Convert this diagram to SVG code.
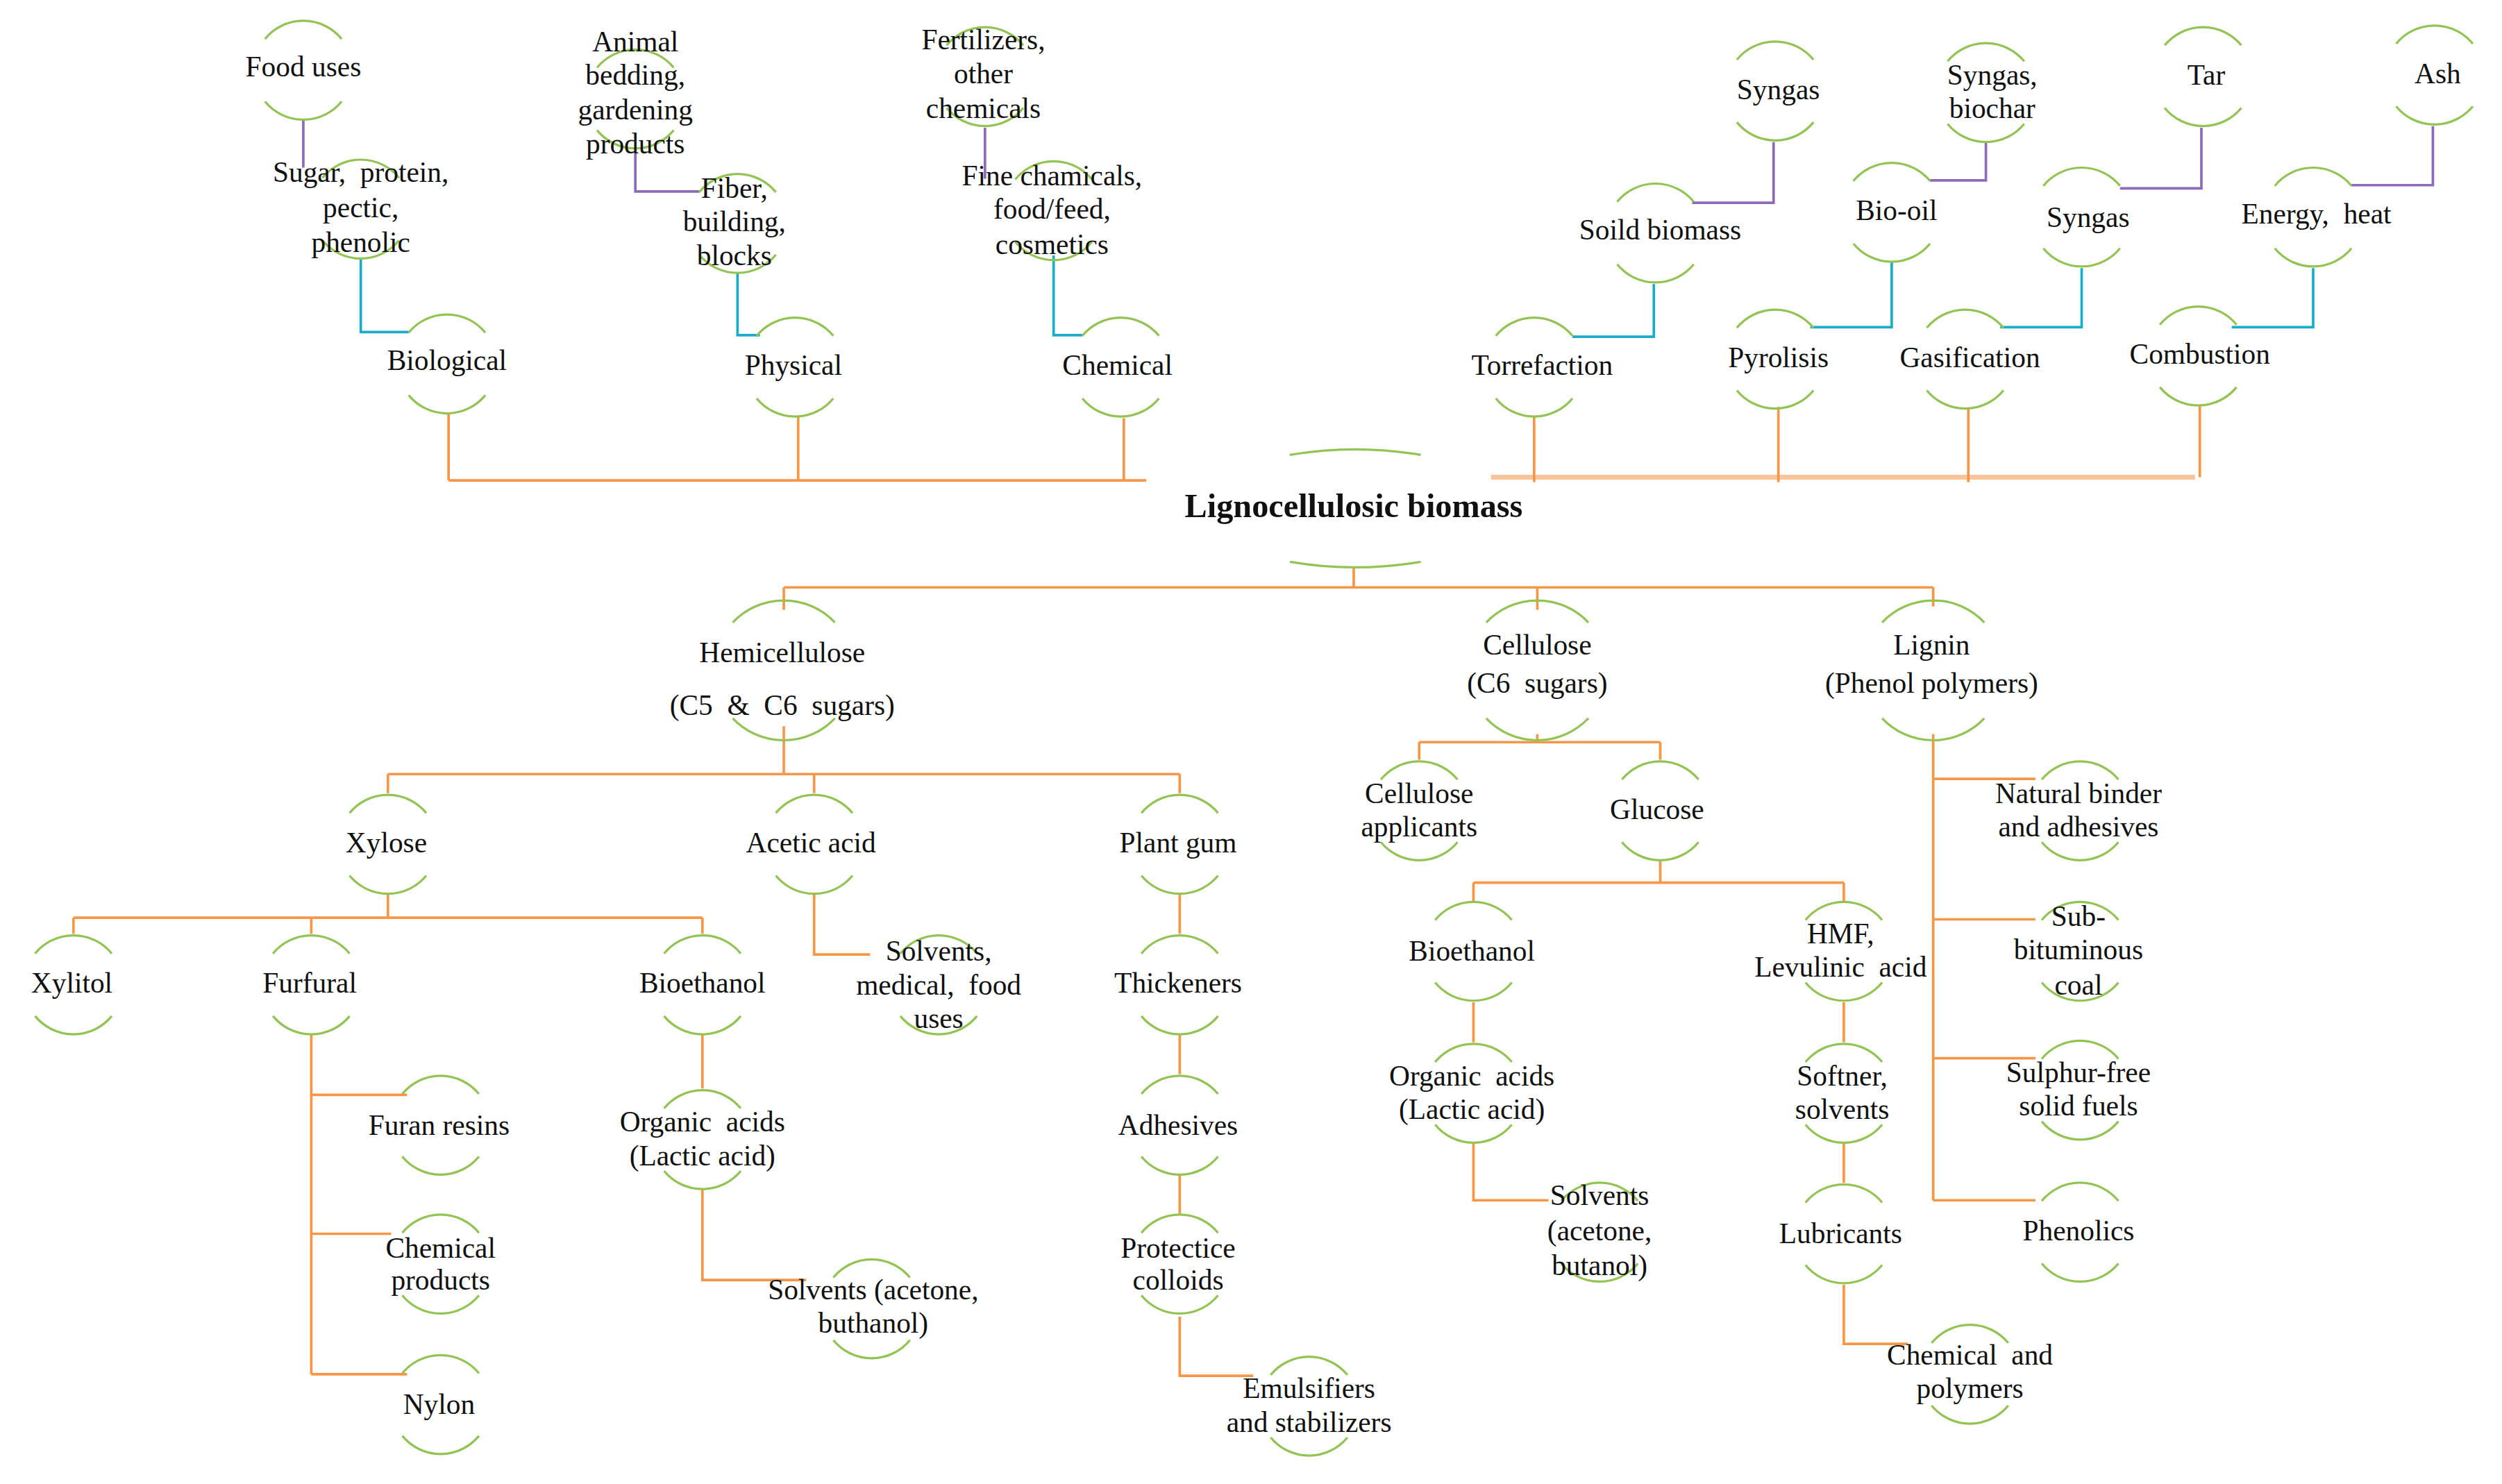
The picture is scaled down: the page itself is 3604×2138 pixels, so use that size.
<svg xmlns="http://www.w3.org/2000/svg" width="3604" height="2138" viewBox="0 0 3604 2138">
<style>
.r{fill:none;stroke:#92C353;stroke-width:1.4}
.o{fill:none;stroke:#F79646;stroke-width:1.6}
.lo{fill:none;stroke:#FBC39A;stroke-width:3}
.c{fill:none;stroke:#1AACC8;stroke-width:1.6}
.p{fill:none;stroke:#8E6BB8;stroke-width:1.6}
text{font-family:"Liberation Serif","Times New Roman",serif;font-size:18px;fill:#111;text-anchor:middle;white-space:pre}
.t{font-weight:bold;font-size:21px}
</style>
<defs>
<path id="ring" d="M-24,-19.6 A31 31 0 0 1 24,-19.6 M-24,19.6 A31 31 0 0 0 24,19.6"/>
<path id="ringW" d="M-32,-30 A44 44 0 0 1 32,-30 M-32,30 A44 44 0 0 0 32,30"/>
</defs>
<rect width="3604" height="2138" fill="#fff"/>
<g transform="scale(2.2995)">
<g id="connectors">
<path class="p" d="M190,75V105 M398,96V120H438 M617,80V112 M1111,89V127H1060 M1244,89V113H1209 M1379,80V118H1328 M1524,79V116H1473"/>
<path class="c" d="M226,162V208H256 M462,171V210H476 M660,160V210H678 M1036,178V211H985 M1185,164V205H1134 M1304,168V205H1253 M1449,168V205H1398"/>
<path class="o" d="M281,259V301 M500,261V301 M704,262V301 M281,301H718"/>
<path class="lo" d="M934,299H1375"/>
<path class="o" d="M961,261V302 M1114,255V302 M1233,256V302 M1378,254V299"/>
<path class="o" d="M848,356V368 M491,368H1211 M491,368V382 M963,368V382 M1211,368V380"/>
<path class="o" d="M491,455V485 M243,485H739 M243,485V497 M510,485V497 M739,485V497"/>
<path class="o" d="M243,560V575 M46,575H440 M46,575V585 M195,575V585 M440,575V585"/>
<path class="o" d="M510,560V598H545"/>
<path class="o" d="M739,560V585 M739,648V673 M739,736V761 M739,825V862H785"/>
<path class="o" d="M195,648V861 M195,686H255 M195,773H245 M195,861H255"/>
<path class="o" d="M440,648V682 M440,745V802H505"/>
<path class="o" d="M963,460V465 M889,465H1040 M889,465V476 M1040,465V476"/>
<path class="o" d="M1040,539V553 M923,553H1155 M923,553V565 M1155,553V565"/>
<path class="o" d="M923,628V653 M923,716V752H970"/>
<path class="o" d="M1155,628V653 M1155,716V741 M1155,805V842H1195"/>
<path class="o" d="M1211,460V752 M1211,488H1275 M1211,576H1275 M1211,663H1275 M1211,752H1275"/>
</g>
<g id="n-food"><use href="#ring" class="r" x="190" y="44"/><text x="190" y="48">Food uses</text></g>
<g id="n-sugar"><use href="#ring" class="r" x="226" y="131"/><text x="226" y="114">Sugar,  protein,</text><text x="226" y="136">pectic,</text><text x="226" y="158">phenolic</text></g>
<g id="n-bio"><use href="#ring" class="r" x="280" y="228"/><text x="280" y="232">Biological</text></g>
<g id="n-animal"><use href="#ring" class="r" x="398" y="62"/><text x="398" y="32">Animal</text><text x="398" y="53">bedding,</text><text x="398" y="75">gardening</text><text x="398" y="96">products</text></g>
<g id="n-fiber"><use href="#ring" class="r" x="462" y="140"/><text x="460" y="124">Fiber,</text><text x="460" y="145">building,</text><text x="460" y="166">blocks</text></g>
<g id="n-phys"><use href="#ring" class="r" x="498" y="230"/><text x="497" y="235">Physical</text></g>
<g id="n-fert"><use href="#ring" class="r" x="617" y="48"/><text x="616" y="31">Fertilizers,</text><text x="616" y="52">other</text><text x="616" y="74">chemicals</text></g>
<g id="n-fine"><use href="#ring" class="r" x="660" y="132"/><text x="659" y="116">Fine chamicals,</text><text x="659" y="137">food/feed,</text><text x="659" y="159">cosmetics</text></g>
<g id="n-chem"><use href="#ring" class="r" x="702" y="230"/><text x="700" y="235">Chemical</text></g>
<g id="n-syngas1"><use href="#ring" class="r" x="1112" y="57"/><text x="1114" y="62">Syngas</text></g>
<g id="n-syngasb"><use href="#ring" class="r" x="1244" y="58"/><text x="1248" y="53">Syngas,</text><text x="1248" y="74">biochar</text></g>
<g id="n-tar"><use href="#ring" class="r" x="1380" y="48"/><text x="1382" y="53">Tar</text></g>
<g id="n-ash"><use href="#ring" class="r" x="1525" y="47"/><text x="1527" y="52">Ash</text></g>
<g id="n-soild"><use href="#ring" class="r" x="1037" y="146"/><text x="1040" y="150">Soild biomass</text></g>
<g id="n-biooil"><use href="#ring" class="r" x="1185" y="133"/><text x="1188" y="138">Bio-oil</text></g>
<g id="n-syngas2"><use href="#ring" class="r" x="1304" y="136"/><text x="1308" y="142">Syngas</text></g>
<g id="n-energy"><use href="#ring" class="r" x="1449" y="136"/><text x="1451" y="140">Energy,  heat</text></g>
<g id="n-torr"><use href="#ring" class="r" x="961" y="230"/><text x="966" y="235">Torrefaction</text></g>
<g id="n-pyro"><use href="#ring" class="r" x="1112" y="225"/><text x="1114" y="230">Pyrolisis</text></g>
<g id="n-gas"><use href="#ring" class="r" x="1231" y="225"/><text x="1234" y="230">Gasification</text></g>
<g id="n-comb"><use href="#ring" class="r" x="1377" y="223"/><text x="1378" y="228">Combustion</text></g>
<g id="n-ligno"><path class="r" d="M808,285 Q849,278 890,285 M808,352 Q849,359 890,352"/><text class="t" x="848" y="324">Lignocellulosic biomass</text></g>
<g id="n-hemi"><use href="#ringW" class="r" x="491" y="420"/><text x="490" y="415">Hemicellulose</text><text x="490" y="448">(C5  &amp;  C6  sugars)</text></g>
<g id="n-cell"><use href="#ringW" class="r" x="963" y="420"/><text x="963" y="410">Cellulose</text><text x="963" y="434">(C6  sugars)</text></g>
<g id="n-lignin"><use href="#ringW" class="r" x="1211" y="420"/><text x="1210" y="410">Lignin</text><text x="1210" y="434">(Phenol polymers)</text></g>
<g id="n-xylose"><use href="#ring" class="r" x="243" y="529"/><text x="242" y="534">Xylose</text></g>
<g id="n-acetic"><use href="#ring" class="r" x="510" y="529"/><text x="508" y="534">Acetic acid</text></g>
<g id="n-gum"><use href="#ring" class="r" x="739" y="529"/><text x="738" y="534">Plant gum</text></g>
<g id="n-xylitol"><use href="#ring" class="r" x="46" y="617"/><text x="45" y="622">Xylitol</text></g>
<g id="n-furfural"><use href="#ring" class="r" x="195" y="617"/><text x="194" y="622">Furfural</text></g>
<g id="n-bioeth1"><use href="#ring" class="r" x="440" y="617"/><text x="440" y="622">Bioethanol</text></g>
<g id="n-solvmed"><use href="#ring" class="r" x="588" y="617"/><text x="588" y="602">Solvents,</text><text x="588" y="623">medical,  food</text><text x="588" y="644">uses</text></g>
<g id="n-thick"><use href="#ring" class="r" x="739" y="617"/><text x="738" y="622">Thickeners</text></g>
<g id="n-furan"><use href="#ring" class="r" x="276" y="705"/><text x="275" y="711">Furan resins</text></g>
<g id="n-orgacid1"><use href="#ring" class="r" x="440" y="714"/><text x="440" y="709">Organic  acids</text><text x="440" y="730">(Lactic acid)</text></g>
<g id="n-adh"><use href="#ring" class="r" x="739" y="705"/><text x="738" y="711">Adhesives</text></g>
<g id="n-chemprod"><use href="#ring" class="r" x="276" y="792"/><text x="276" y="788">Chemical</text><text x="276" y="808">products</text></g>
<g id="n-solv1"><use href="#ring" class="r" x="546" y="820"/><text x="547" y="814">Solvents (acetone,</text><text x="547" y="835">buthanol)</text></g>
<g id="n-colloid"><use href="#ring" class="r" x="739" y="792"/><text x="738" y="788">Protectice</text><text x="738" y="808">colloids</text></g>
<g id="n-nylon"><use href="#ring" class="r" x="276" y="880"/><text x="275" y="886">Nylon</text></g>
<g id="n-emul"><use href="#ring" class="r" x="820" y="881"/><text x="820" y="876">Emulsifiers</text><text x="820" y="897">and stabilizers</text></g>
<g id="n-cellapp"><use href="#ring" class="r" x="889" y="508"/><text x="889" y="503">Cellulose</text><text x="889" y="524">applicants</text></g>
<g id="n-glucose"><use href="#ring" class="r" x="1040" y="508"/><text x="1038" y="513">Glucose</text></g>
<g id="n-bioeth2"><use href="#ring" class="r" x="923" y="596"/><text x="922" y="602">Bioethanol</text></g>
<g id="n-hmf"><use href="#ring" class="r" x="1155" y="596"/><text x="1153" y="591">HMF,</text><text x="1153" y="612">Levulinic  acid</text></g>
<g id="n-orgacid2"><use href="#ring" class="r" x="923" y="685"/><text x="922" y="680">Organic  acids</text><text x="922" y="701">(Lactic acid)</text></g>
<g id="n-softner"><use href="#ring" class="r" x="1155" y="685"/><text x="1154" y="680">Softner,</text><text x="1154" y="701">solvents</text></g>
<g id="n-solv2"><use href="#ring" class="r" x="1002" y="772"/><text x="1002" y="755">Solvents</text><text x="1002" y="777">(acetone,</text><text x="1002" y="799">butanol)</text></g>
<g id="n-lubri"><use href="#ring" class="r" x="1155" y="773"/><text x="1153" y="779">Lubricants</text></g>
<g id="n-chempoly"><use href="#ring" class="r" x="1234" y="861"/><text x="1234" y="855">Chemical  and</text><text x="1234" y="876">polymers</text></g>
<g id="n-binder"><use href="#ring" class="r" x="1303" y="508"/><text x="1302" y="503">Natural binder</text><text x="1302" y="524">and adhesives</text></g>
<g id="n-coal"><use href="#ring" class="r" x="1303" y="596"/><text x="1302" y="580">Sub-</text><text x="1302" y="601">bituminous</text><text x="1302" y="623">coal</text></g>
<g id="n-sulphur"><use href="#ring" class="r" x="1303" y="683"/><text x="1302" y="678">Sulphur-free</text><text x="1302" y="699">solid fuels</text></g>
<g id="n-phenolics"><use href="#ring" class="r" x="1303" y="772"/><text x="1302" y="777">Phenolics</text></g>
</g>
</svg>
